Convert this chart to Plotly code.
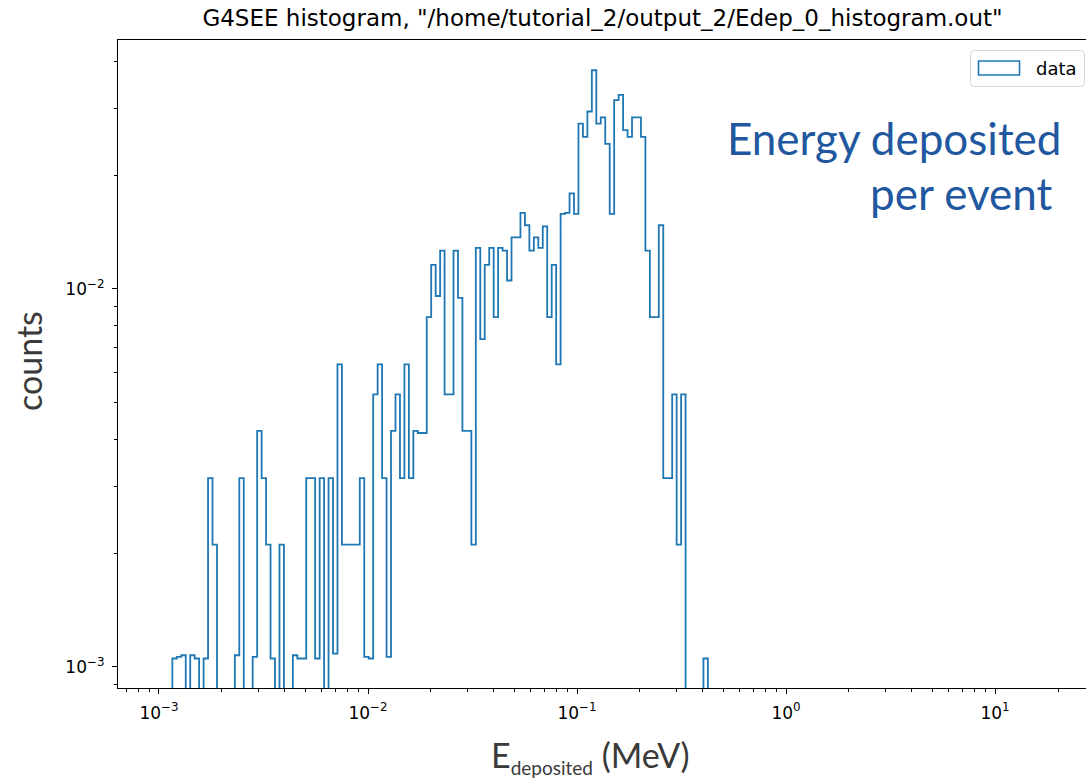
import numpy as np
import plotly.graph_objects as go

# ---- binning of the histogram (log-spaced bins, MeV) ----
LOG_FIRST_EDGE = -3.0     # log10 of first bin edge
LOG_BIN_WIDTH = 0.02135   # decades per bin
COUNT_NORM = 1.053e-3     # plotted value of a single count

# ---- counts per bin ----
counts = [
    0, 0, 0,
    1.0, 1.01, 1.02, 0, 1.02, 1.0, 0, 1.0, 3, 2,
    0, 0, 0, 0, 1.02, 3, 0, 0, 1.01, 4,
    3, 2, 1.0, 0, 2, 0, 0, 1.02, 1.0, 1.0,
    3, 3, 1.0, 3, 0, 3, 1.03, 6, 2, 2,
    2, 2, 3, 1.01, 1.0, 5, 6, 3, 1.01, 4,
    5, 3, 6, 3, 4, 3.95, 3.95, 8, 11, 9.1,
    12, 5, 5, 12, 9, 4, 4, 2, 12.2, 7,
    11, 12.2, 8, 12.2, 12, 10, 13, 13, 15.1, 14,
    12, 13, 12.2, 13.9, 8, 11, 6, 15, 15.1, 17,
    15, 26, 24, 28, 36, 26, 27, 23, 15, 30,
    31, 25, 24, 27, 27, 24, 12, 8, 8, 14,
    3, 3, 5, 2, 5, 0, 0, 0, 0, 1.0,
]

x_tickvals = [1e-3, 1e-2, 1e-1, 1e0, 1e1]
x_ticktext = ["10<sup>\u22123</sup>", "10<sup>\u22122</sup>", "10<sup>\u22121</sup>",
              "10<sup>0</sup>", "10<sup>1</sup>"]
y_tickvals = [1e-3, 1e-2]
y_ticktext = ["10<sup>\u22123</sup>", "10<sup>\u22122</sup>"]

TITLE = 'G4SEE histogram, "/home/tutorial_2/output_2/Edep_0_histogram.out"'
LEGEND_LABEL = "data"
C0 = "#1f77b4"

# ---- build step outline ----
n = len(counts)
edges = 10 ** (LOG_FIRST_EDGE + LOG_BIN_WIDTH * np.arange(n + 1))
values = [c * COUNT_NORM for c in counts]
FLOOR = 1e-6  # empty bins drop below the visible axis range
vals = [v if v > 0 else FLOOR for v in values]
xs = [edges[0]] + list(edges[:-1]) + [edges[-1], edges[-1]]
ys = [FLOOR] + vals + [vals[-1], FLOOR]

minor_x = [m * 10.0 ** e for e in range(-4, 2) for m in range(2, 10)]
minor_y = [m * 10.0 ** e for e in range(-4, -1) for m in range(2, 10)]

W, H = 1086, 781
ML, MR, MT, MB = 118, 0, 40, 93
PW, PH = W - ML - MR, H - MT - MB


def px(x):
    return (x - ML) / PW


def py(y):
    return (H - MB - y) / PH


fig = go.Figure()
fig.add_trace(go.Scatter(x=xs, y=ys, mode="lines", name=LEGEND_LABEL,
                         line=dict(color=C0, width=1.8, shape="hv"),
                         showlegend=False, hoverinfo="skip"))

# legend drawn as matplotlib-style box (rounded frame, patch, label)
r = 4
x0, x1, y0, y1 = 970.5, 1084.5, 50.5, 86.5
rx, ry = r / PW, r / PH
X0, X1, Y0, Y1 = px(x0), px(x1), py(y1), py(y0)
frame_path = (f"M{X0+rx},{Y0} L{X1-rx},{Y0} Q{X1},{Y0} {X1},{Y0+ry} "
              f"L{X1},{Y1-ry} Q{X1},{Y1} {X1-rx},{Y1} L{X0+rx},{Y1} "
              f"Q{X0},{Y1} {X0},{Y1-ry} L{X0},{Y0+ry} Q{X0},{Y0} {X0+rx},{Y0} Z")

shapes = [
    dict(type="path", xref="paper", yref="paper", path=frame_path,
         line=dict(color="#d6d6d6", width=1), fillcolor="rgba(255,255,255,0.8)"),
    dict(type="rect", xref="paper", yref="paper",
         x0=px(978.5), x1=px(1019.5), y0=py(75), y1=py(61),
         line=dict(color=C0, width=1.6), fillcolor="rgba(255,255,255,0)"),
]

axis_common = dict(type="log", showline=True, linecolor="black", linewidth=1.2,
                   ticks="outside", ticklen=5, tickwidth=1, tickcolor="black",
                   showgrid=False, zeroline=False, ticklabelstandoff=4,
                   tickfont=dict(family="DejaVu Sans", size=17, color="black"))

fig.update_layout(
    width=W, height=H,
    margin=dict(l=ML, r=MR, t=MT, b=MB),
    paper_bgcolor="white", plot_bgcolor="white",
    showlegend=False,
    title=dict(text=TITLE, x=px(602.5) * PW / W + ML / W, xanchor="center",
               y=1 - 18 / H, yanchor="middle",
               font=dict(family="DejaVu Sans", size=23, color="black")),
    xaxis=dict(range=[-3.196, 1.435], mirror=True, tickmode="array",
               tickvals=x_tickvals, ticktext=x_ticktext,
               minor=dict(ticks="outside", ticklen=3, tickcolor="black", tickmode="array",
                          tickvals=minor_x, showgrid=False),
               **axis_common),
    yaxis=dict(range=[-3.0556, -1.3413], tickmode="array",
               tickvals=y_tickvals, ticktext=y_ticktext,
               minor=dict(ticks="outside", ticklen=3, tickcolor="black", tickmode="array",
                          tickvals=minor_y, showgrid=False),
               **axis_common),
    shapes=shapes,
    annotations=[
        dict(text=LEGEND_LABEL, xref="paper", yref="paper", x=px(1034), y=py(68.5),
             xanchor="left", yanchor="middle", showarrow=False,
             font=dict(family="DejaVu Sans", size=18, color="black")),
        dict(text="E<sub><span style='font-size:19px'>deposited</span></sub> (MeV)",
             xref="paper", yref="paper", x=px(590), y=py(756),
             xanchor="center", yanchor="middle", showarrow=False,
             font=dict(family="Lato", size=34, color="#3a3a3a")),
        dict(text="counts", xref="paper", yref="paper", x=px(28), y=py(361),
             xanchor="center", yanchor="middle", showarrow=False, textangle=-90,
             font=dict(family="Lato", size=34, color="#3a3a3a")),
        dict(text="Energy deposited", xref="paper", yref="paper", x=px(1063), y=py(138),
             xanchor="right", yanchor="middle", showarrow=False,
             font=dict(family="Lato", size=44, color="#21579f")),
        dict(text="per event", xref="paper", yref="paper", x=px(1055), y=py(193),
             xanchor="right", yanchor="middle", showarrow=False,
             font=dict(family="Lato", size=44, color="#21579f")),
    ],
)

fig.write_html("out.html")
